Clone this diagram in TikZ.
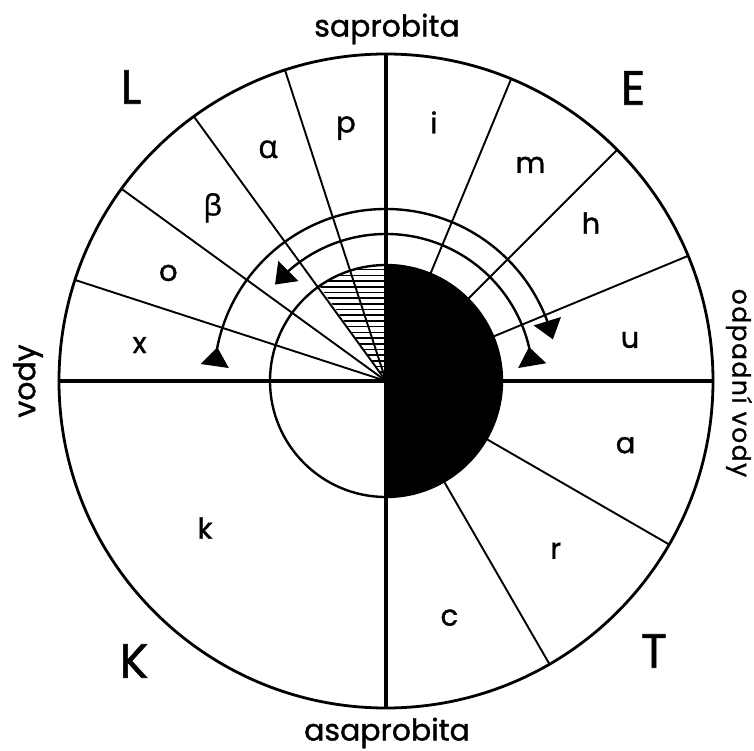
\documentclass[tikz,border=0pt]{standalone}
\usepackage{fontspec}
\setmainfont{Poppins}[FakeBold=1.2]
\newfontfamily\greekfont{Open Sans}[FakeBold=1.2]
\newfontfamily\sidefont{Poppins}[FakeBold=1.0,LetterSpace=6]
\usetikzlibrary{arrows.meta,bending}
\begin{document}
\begin{tikzpicture}[x=1pt,y=1pt,
  spoke/.style={line width=1.9pt},
  axisline/.style={line width=4pt},
  rim/.style={line width=2.8pt},
  rangearc/.style={line width=2.4pt,{Triangle[reversed,length=19pt,width=28pt]}-{Triangle[length=19pt,width=28pt]}},
  sector/.style={font=\fontsize{29}{29}\selectfont},
  region/.style={font=\fontsize{48}{48}\selectfont},
  caption/.style={font=\fontsize{30}{30}\selectfont}]
\useasboundingbox (-386,-370) rectangle (368,381);
\coordinate (O) at (0,0);
% black half of the inner disc
\fill (0,116) arc[start angle=90,end angle=-90,radius=116] -- cycle;
% hatched sector
\begin{scope}
  \clip (O) -- (90:116) arc[start angle=90,end angle=125,radius=116] -- cycle;
  \foreach \k in {0,...,20} \draw[line width=1.6pt] (-80,3+\k*5.7) -- (0,3+\k*5.7);
\end{scope}
\draw[line width=2.4pt] (O) circle[radius=116];
% spokes
\foreach \a in {108,126,144,162,67.5,45,22.5,-30,-60} \draw[spoke] (O) -- (\a:327);
\draw[axisline] (0,327) -- (0,-327);
\draw[axisline] (-327,0) -- (327,0);
\draw[rim] (O) circle[radius=327];
% range arcs
\draw[rangearc] (175:172) arc[start angle=175,end angle=14,radius=172];
\draw[rangearc] (6:147) arc[start angle=6,end angle=139,radius=147];
% sector labels
\node[sector] (lp) at (99:256) {p};
\node[sector] (lalpha) at (117:260) {\greekfont\fontsize{32}{32}\selectfont α};
\node[sector] (lbeta) at (135:245) {\greekfont β};
\node[sector] (lo) at (153.6:243) {o};
\node[sector] (lx) at (171.7:249) {x};
\node[sector] (li) at (79.5:263) {i};
\node[sector] (lm) at (56.25:260) {m};
\node[sector] (lh) at (205,158) {h};
\node[sector] (lu) at (244,41) {u};
\node[sector] (la) at (-15:248) {a};
\node[sector] (lr) at (-45:240) {r};
\node[sector] (lc) at (-75:245) {c};
\node[sector] (lk) at (-181,-147) {k};
% region letters
\node[region] (rL) at (-255,294) {L};
\node[region] (rE) at (247,293) {E};
\node[region] (rK) at (-252,-280) {K};
\node[region] (rT) at (268,-270) {T};
% captions
\node[caption] (sap) at (1,352) {saprobita};
\node[caption] (asap) at (1,-352) {asaprobita};
\node[caption,rotate=90] (vody) at (-358,0) {vody};
\node[rotate=-90,font=\sidefont\fontsize{25}{25}\selectfont] (odp) at (353,-2) {odpadní vody};
\end{tikzpicture}
\end{document}
